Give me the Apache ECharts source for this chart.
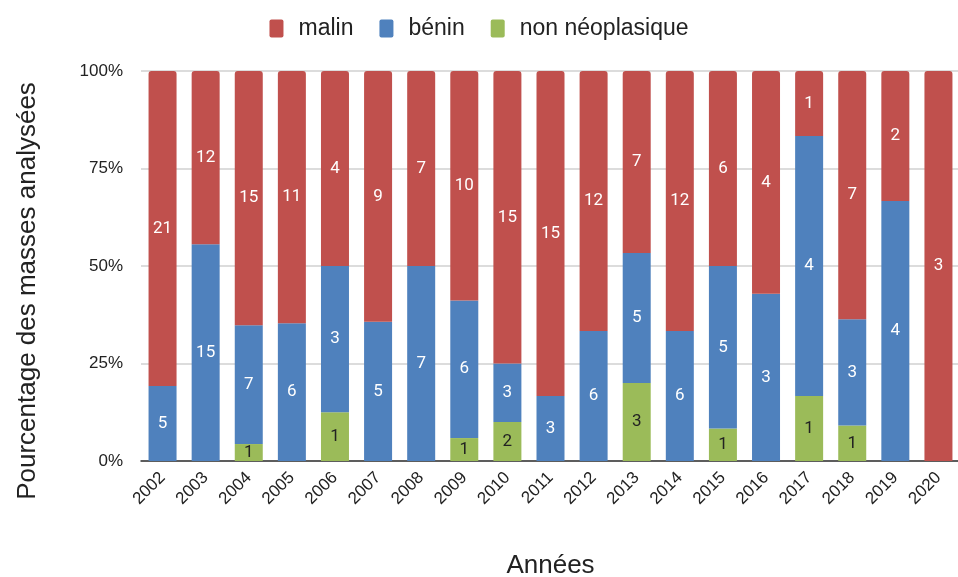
<!DOCTYPE html>
<html>
<head>
<meta charset="utf-8">
<script src="https://cdn.jsdelivr.net/npm/echarts@6/dist/echarts.min.js"></script>
<style>
  html, body { margin: 0; padding: 0; background: #fff; }
  #chart { width: 958px; height: 577px; }
</style>
</head>
<body>
<div id="chart"></div>
<script>
// Années et effectifs par type histologique
const annees = ['2002','2003','2004','2005','2006','2007','2008','2009','2010','2011',
                '2012','2013','2014','2015','2016','2017','2018','2019','2020'];
const nonNeo = [0, 0, 1, 0, 1, 0, 0, 1, 2, 0, 0, 3, 0, 1, 0, 1, 1, 0, 0];
const benin  = [5, 15, 7, 6, 3, 5, 7, 6, 3, 3, 6, 5, 6, 5, 3, 4, 3, 4, 0];
const malin  = [21, 12, 15, 11, 4, 9, 7, 10, 15, 15, 12, 7, 12, 6, 4, 1, 7, 2, 3];
const yTicks = [0, 25, 50, 75, 100];

const totaux = annees.map((a, i) => nonNeo[i] + benin[i] + malin[i]);

// pourcentage pour l'empilement, effectif pour l'étiquette
function enPct(counts) {
  return counts.map((c, i) => ({ value: c / totaux[i] * 100, count: c }));
}

function serie(nom, counts, couleur, texte, radius) {
  return {
    name: nom,
    type: 'bar',
    stack: 'total',
    barWidth: 28,
    data: enPct(counts),
    itemStyle: { color: couleur, borderRadius: radius },
    label: {
      show: true,
      position: 'inside',
      color: texte,
      fontFamily: 'Roboto',
      fontSize: 17,
      formatter: p => (p.data.count > 0 ? p.data.count : '')
    }
  };
}

var myChart = echarts.init(document.getElementById('chart'));

// petit carré aux coins arrondis pour la légende
const carre = 'path://M2,0 L12,0 Q14,0 14,2 L14,16 Q14,18 12,18 L2,18 Q0,18 0,16 L0,2 Q0,0 2,0 Z';

const option = {
  animation: false,
  legend: {
    data: ['malin', 'bénin', 'non néoplasique'],
    top: 12,
    left: 'center',
    itemWidth: 14,
    itemHeight: 18,
    itemGap: 26,
    icon: carre,
    textStyle: { fontFamily: 'Liberation Sans', fontSize: 23, color: '#222', padding: [0, 0, 0, 10] }
  },
  grid: { left: 141, right: -2, top: 71, bottom: 116, outerBoundsMode: 'none' },
  xAxis: {
    type: 'category',
    data: annees,
    name: 'Années',
    nameLocation: 'middle',
    nameGap: 92,
    nameTextStyle: { fontFamily: 'Liberation Sans', fontSize: 26, color: '#222' },
    axisTick: { show: false },
    axisLine: { lineStyle: { color: '#333', width: 1.5 } },
    axisLabel: {
      rotate: 45,
      fontFamily: 'Liberation Sans',
      fontSize: 17,
      color: '#222',
      margin: 14
    }
  },
  yAxis: {
    type: 'value',
    min: 0,
    max: 100,
    interval: 25,
    name: 'Pourcentage des masses analysées',
    nameLocation: 'middle',
    nameGap: 100,
    nameTextStyle: {
      fontFamily: 'Liberation Sans', fontSize: 26, color: '#222',
      padding: [0, 50, 0, 0]
    },
    axisLabel: {
      fontFamily: 'Liberation Sans',
      fontSize: 17,
      color: '#222',
      margin: 18,
      formatter: v => (yTicks.includes(v) ? v + '%' : '')
    },
    splitLine: { lineStyle: { color: '#d0d0d0', width: 1.5 } }
  },
  series: [
    serie('non néoplasique', nonNeo, '#9bbb59', '#222', 0),
    serie('bénin', benin, '#4f81bd', '#fff', 0),
    serie('malin', malin, '#c0504d', '#fff', [3, 3, 0, 0])
  ]
};

option && myChart.setOption(option);
</script>
</body>
</html>
